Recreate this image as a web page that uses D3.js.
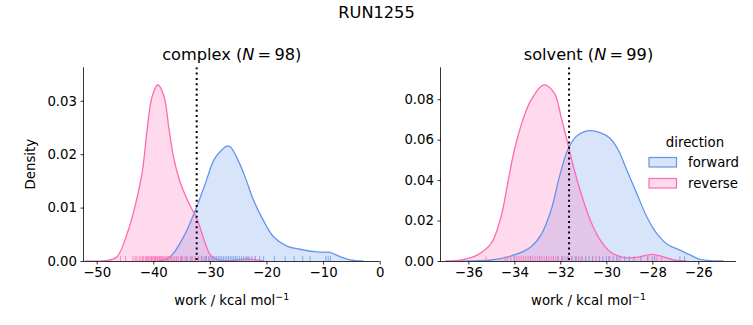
<!DOCTYPE html>
<html>
<head>
<meta charset="utf-8">
<script src="https://cdn.jsdelivr.net/npm/d3@7"></script>
<style>
  html, body { margin: 0; padding: 0; background: #fff; }
  svg { display: block; font-family: "DejaVu Sans", sans-serif; }
</style>
</head>
<body>
<svg id="chart" width="753" height="325"></svg>
<script>
// ---------------- data ----------------
const suptitle = "RUN1255";
const directions = ["forward", "reverse"];
const colors = { forward: "#6495ED", reverse: "#FF69B4" };

// complex leg (N = 98)
const complexN = 98;
const complexDG = -32.33;
const complexForwardX = [-39, -37, -34.6, -32.8, -31.0, -29.3, -28.0, -27.0, -26.4, -25.3, -23.8, -22.3, -20.6, -18.8, -16.4, -14.1, -11.1, -8.8, -7.0, -5.2, -2.9];
const complexForwardD = [0, 0.0008, 0.0046, 0.0089, 0.0139, 0.0189, 0.0207, 0.0215, 0.0214, 0.0195, 0.0158, 0.0114, 0.0077, 0.0046, 0.0028, 0.0022, 0.0017, 0.0016, 0.0008, 0.0002, 0];
const complexReverseX = [-52, -48, -46.4, -44.6, -43.1, -41.9, -41.1, -40.2, -39.2, -38.1, -37.2, -36.3, -35.2, -33.7, -32.2, -31.0, -29.9, -28.5, -26, -23.5, -22.5, -20.5];
const complexReverseD = [0, 0.0001, 0.0008, 0.0052, 0.0108, 0.0170, 0.0245, 0.0308, 0.0330, 0.0308, 0.0245, 0.0189, 0.0146, 0.0108, 0.0077, 0.0039, 0.0011, 0.0002, 0.0001, 0.0004, 0.0003, 0];
const complexForwardRug = [-35.0, -34.1, -33.3, -32.6, -32.0, -31.5, -31.0, -30.6, -30.2, -29.8, -29.5, -29.1, -28.8, -28.5, -28.2, -27.9, -27.6, -27.3, -27.0, -26.7, -26.4, -26.1, -25.8, -25.5, -25.2, -24.8, -24.4, -24.0, -23.6, -23.1, -22.6, -22.0, -21.2, -20.5, -18.6, -16.7, -15.1, -13.6, -12.3, -9.5, -9.1, -8.7];
const complexReverseRug = [-45.8, -44.9, -43.6, -43.2, -42.9, -42.5, -42.2, -41.9, -41.7, -41.4, -41.2, -41.0, -40.8, -40.6, -40.4, -40.3, -40.1, -39.9, -39.8, -39.6, -39.5, -39.3, -39.2, -39.0, -38.9, -38.7, -38.6, -38.4, -38.3, -38.1, -37.9, -37.7, -37.5, -37.3, -37.0, -36.8, -36.5, -36.2, -35.9, -35.6, -35.2, -34.8, -34.4, -34.0, -33.5, -33.1, -32.6, -32.0, -31.4, -30.8, -30.1, -29.3, -23.3, -22.0];
const complexXTicks = [-50, -40, -30, -20, -10, 0];
const complexYTicks = [0, 0.01, 0.02, 0.03];

// solvent leg (N = 99)
const solventN = 99;
const solventDG = -31.62;
const solventForwardX = [-36.5, -35.0, -34.0, -33.27, -32.84, -32.4, -32.04, -31.68, -31.32, -30.96, -30.7, -30.27, -29.84, -29.48, -29.11, -28.68, -28.24, -27.81, -27.3, -26.8, -26.36, -25.92, -25.36, -24.9];
const solventForwardD = [0, 0.0005, 0.003, 0.0071, 0.0129, 0.0252, 0.0417, 0.0549, 0.0615, 0.064, 0.0645, 0.0635, 0.0607, 0.0549, 0.045, 0.0335, 0.0219, 0.0137, 0.0079, 0.0054, 0.003, 0.0008, 0.0001, 0];
const solventReverseX = [-37.0, -36.3, -35.6, -35.0, -34.58, -34.29, -34.0, -33.63, -33.27, -32.72, -32.26, -31.97, -31.68, -31.39, -31.1, -30.7, -30.27, -29.84, -29.26, -28.68, -28.03, -27.52, -27.09, -26.5];
const solventReverseD = [0, 0.0005, 0.003, 0.0088, 0.0219, 0.0384, 0.0549, 0.0698, 0.0797, 0.0871, 0.0830, 0.0714, 0.0582, 0.045, 0.0335, 0.0203, 0.0104, 0.0046, 0.0018, 0.0018, 0.0033, 0.0021, 0.0005, 0];
const solventForwardRug = [-34.0, -33.3, -32.9, -32.6, -32.3, -32.1, -31.9, -31.7, -31.5, -31.35, -31.2, -31.05, -30.9, -30.75, -30.6, -30.45, -30.3, -30.15, -30.0, -29.85, -29.7, -29.55, -29.4, -29.2, -29.0, -28.8, -28.5, -28.2, -27.9, -26.8, -26.6];
const solventReverseRug = [-35.23, -34.4, -34.3, -34.15, -34.0, -33.9, -33.8, -33.7, -33.6, -33.5, -33.4, -33.3, -33.2, -33.1, -33.0, -32.9, -32.8, -32.7, -32.6, -32.5, -32.4, -32.3, -32.2, -32.1, -31.95, -31.8, -31.65, -31.5, -31.3, -31.1, -30.9, -30.6, -30.3, -29.9, -29.5, -28.2, -28.0, -27.8, -27.6];
const solventXTicks = [-36, -34, -32, -30, -28, -26];
const solventYTicks = [0, 0.02, 0.04, 0.06, 0.08];

// ---------------- drawing ----------------
const svg = d3.select("#chart");
const FONT = "DejaVu Sans, sans-serif";
const TICK_FS = 13.3;

svg.append("text").attr("x", 376.5).attr("y", 18).attr("text-anchor", "middle")
  .attr("font-size", 16.2).attr("fill", "#000").text(suptitle);

function panel(opts) {
  const x = d3.scaleLinear().domain(opts.xDomain).range([opts.left, opts.right]);
  const y = d3.scaleLinear().domain(opts.yDomain).range([opts.bottom, opts.top]);
  const g = svg.append("g");

  const series = [
    { key: "forward", xs: opts.fx, ds: opts.fd, rug: opts.frug },
    { key: "reverse", xs: opts.rx, ds: opts.rd, rug: opts.rrug }
  ];

  const curve = d3.curveCatmullRom.alpha(0.5);
  const area = d3.area().x(d => x(d[0])).y0(y(0)).y1(d => Math.min(y(0), y(d[1]))).curve(curve);
  const line = d3.line().x(d => x(d[0])).y(d => y(d[1])).curve(curve);

  const clipId = "clip" + opts.id;
  svg.append("clipPath").attr("id", clipId).append("rect")
    .attr("x", opts.left).attr("y", opts.top).attr("width", opts.right - opts.left).attr("height", opts.bottom - opts.top);
  const plot = g.append("g").attr("clip-path", `url(#${clipId})`);

  series.forEach(s => {
    const pts = s.xs.map((v, i) => [v, s.ds[i]]);
    plot.append("path").attr("d", area(pts)).attr("fill", colors[s.key]).attr("fill-opacity", 0.25);
  });
  series.forEach(s => {
    const pts = s.xs.map((v, i) => [v, s.ds[i]]);
    plot.append("path").attr("d", line(pts)).attr("fill", "none").attr("stroke", colors[s.key]).attr("stroke-width", 1.3);
  });
  const rugH = (opts.bottom - opts.top) * 0.025;
  series.forEach(s => {
    plot.selectAll(null).data(s.rug).enter().append("line")
      .attr("x1", d => x(d)).attr("x2", d => x(d))
      .attr("y1", opts.bottom).attr("y2", opts.bottom - rugH)
      .attr("stroke", colors[s.key]).attr("stroke-width", 1).attr("stroke-opacity", 0.75);
  });

  // dotted line
  plot.append("line").attr("x1", x(opts.dg)).attr("x2", x(opts.dg))
    .attr("y1", opts.top).attr("y2", opts.bottom)
    .attr("stroke", "#000").attr("stroke-width", 2).attr("stroke-dasharray", "2,3.3");

  // axes
  const fmtY = d3.format(".2f");
  const xAxis = d3.axisBottom(x).tickValues(opts.xTicks).tickSize(3.5).tickPadding(3.5).tickFormat(d3.format("d"));
  const yAxis = d3.axisLeft(y).tickValues(opts.yTicks).tickSize(3.5).tickPadding(3.5).tickFormat(fmtY);
  const gx = g.append("g").attr("transform", `translate(0,${opts.bottom})`).call(xAxis);
  const gy = g.append("g").attr("transform", `translate(${opts.left},0)`).call(yAxis);
  [gx, gy].forEach(a => {
    a.attr("font-family", FONT).attr("font-size", TICK_FS);
    a.selectAll("text").attr("fill", "#000");
    a.selectAll("line").attr("stroke", "#000").attr("stroke-width", 0.8);
    a.select(".domain").attr("stroke", "#000").attr("stroke-width", 0.8);
  });
  gx.select(".domain").attr("d", `M${opts.left},0.5H${opts.right}`);
  gy.select(".domain").attr("d", `M-0.5,${opts.bottom}V${opts.top}`);

  // title
  const cx = (opts.left + opts.right) / 2;
  const t = g.append("text").attr("x", cx).attr("y", 60).attr("text-anchor", "middle")
    .attr("font-size", 16.2).attr("fill", "#000");
  t.append("tspan").text(opts.name + " (");
  t.append("tspan").attr("font-style", "italic").text("N");
  t.append("tspan").text("\u2009=\u2009" + opts.n + ")");

  // x label
  const xl = g.append("text").attr("x", cx).attr("y", 305).attr("text-anchor", "middle")
    .attr("font-size", 13.3).attr("fill", "#000");
  xl.append("tspan").text("work / kcal mol");
  xl.append("tspan").attr("dy", -5).attr("font-size", 9.5).text("\u22121");

  if (opts.ylabel) {
    g.append("text").attr("transform", `translate(35,${(opts.top + opts.bottom) / 2}) rotate(-90)`)
      .attr("text-anchor", "middle").attr("font-size", 13.3).attr("fill", "#000").text("Density");
  }
}

panel({
  id: 1, name: "complex", n: complexN, dg: complexDG,
  left: 84, right: 379.5, top: 67.3, bottom: 261,
  xDomain: [-52.24, -0.03], yDomain: [0, 0.03627],
  fx: complexForwardX, fd: complexForwardD, rx: complexReverseX, rd: complexReverseD,
  frug: complexForwardRug, rrug: complexReverseRug,
  xTicks: complexXTicks, yTicks: complexYTicks, ylabel: true
});
panel({
  id: 2, name: "solvent", n: solventN, dg: solventDG,
  left: 441, right: 736, top: 67.3, bottom: 261,
  xDomain: [-37.19, -24.36], yDomain: [0, 0.0958],
  fx: solventForwardX, fd: solventForwardD, rx: solventReverseX, rd: solventReverseD,
  frug: solventForwardRug, rrug: solventReverseRug,
  xTicks: solventXTicks, yTicks: solventYTicks, ylabel: false
});

// legend
const lg = svg.append("g");
lg.append("text").attr("x", 695).attr("y", 146.5).attr("text-anchor", "middle")
  .attr("font-size", 13.3).attr("fill", "#000").text("direction");
directions.forEach((d, i) => {
  const yy = 157.5 + i * 21;
  lg.append("rect").attr("x", 649).attr("y", yy).attr("width", 27.5).attr("height", 9.5)
    .attr("fill", colors[d]).attr("fill-opacity", 0.25)
    .attr("stroke", colors[d]).attr("stroke-width", 1.2);
  lg.append("text").attr("x", 688).attr("y", yy + 9.3).attr("font-size", 13.3).attr("fill", "#000").text(d);
});
</script>
</body>
</html>
